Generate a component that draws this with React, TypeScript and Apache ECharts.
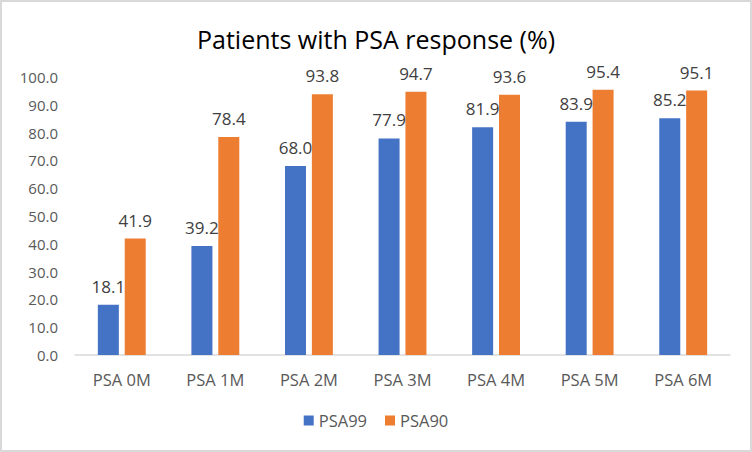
import React, { useEffect, useRef } from "react";
import * as echarts from "echarts";

const categories = ["PSA 0M", "PSA 1M", "PSA 2M", "PSA 3M", "PSA 4M", "PSA 5M", "PSA 6M"];
const psa99 = [18.1, 39.2, 68.0, 77.9, 81.9, 83.9, 85.2];
const psa90 = [41.9, 78.4, 93.8, 94.7, 93.6, 95.4, 95.1];
const seriesNames = ["PSA99", "PSA90"];

export default function App() {
  const ref = useRef<HTMLDivElement>(null);
  useEffect(() => {
    document.body.style.margin = "0";
    const chart = echarts.init(ref.current!, null, { renderer: "svg" });
    const font = "'Open Sans', 'Noto Sans', sans-serif";
    const label = {
      show: true,
      position: "top",
      distance: 10,
      color: "#404040",
      fontSize: 17,
      fontFamily: font,
      formatter: (p: any) => Number(p.value).toFixed(1),
    };
    chart.setOption({
      animation: false,
      backgroundColor: "#ffffff",
      title: {
        text: "Patients with PSA response (%)",
        left: "center",
        top: 21,
        textStyle: { fontSize: 25, fontWeight: "normal", color: "#000000", fontFamily: font },
      },
      legend: {
        bottom: 18,
        left: "center",
        itemWidth: 10,
        itemHeight: 10,
        itemGap: 18,
        icon: "rect",
        textStyle: { fontSize: 16.5, color: "#595959", fontFamily: font },
        data: seriesNames,
      },
      grid: { left: 75, right: 22, top: 77, bottom: 97 },
      xAxis: {
        type: "category",
        data: categories,
        axisLine: { lineStyle: { color: "#d9d9d9", width: 1.5 } },
        axisTick: { show: false },
        axisLabel: { color: "#595959", fontSize: 16.5, margin: 16, fontFamily: font },
      },
      yAxis: {
        type: "value",
        min: 0,
        max: 100,
        interval: 10,
        splitLine: { show: false },
        axisLine: { show: false },
        axisTick: { show: false },
        axisLabel: {
          color: "#595959",
          fontSize: 15,
          margin: 17,
          fontFamily: font,
          formatter: (v: number) => v.toFixed(1),
        },
      },
      series: [
        {
          name: seriesNames[0],
          type: "bar",
          data: psa99,
          barWidth: 21,
          barGap: "28%",
          itemStyle: { color: "#4472c4" },
          label,
        },
        {
          name: seriesNames[1],
          type: "bar",
          data: psa90,
          barWidth: 21,
          barGap: "28%",
          itemStyle: { color: "#ed7d31" },
          label,
        },
      ],
    });
    return () => chart.dispose();
  }, []);
  return (
    <div style={{ position: "relative", width: 752, height: 452 }}>
      <div ref={ref} style={{ width: 752, height: 452 }} />
      <div
        style={{
          position: "absolute",
          left: 0,
          top: 0,
          width: 752,
          height: 452,
          boxSizing: "border-box",
          border: "2px solid #d9d9d9",
          pointerEvents: "none",
        }}
      />
    </div>
  );
}
